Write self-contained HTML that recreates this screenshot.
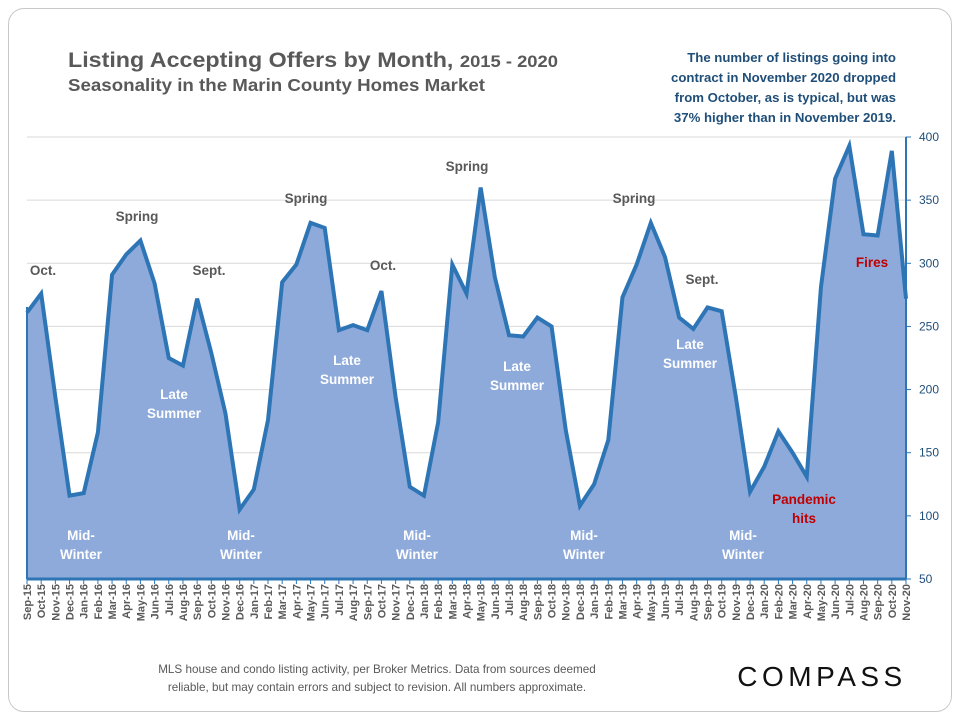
<!DOCTYPE html>
<html><head><meta charset="utf-8"><style>
body{margin:0;background:#fff;width:960px;height:720px;overflow:hidden;font-family:"Liberation Sans",sans-serif;}
.card{position:absolute;left:8px;top:8px;width:942px;height:702px;border:1px solid #c8c8c8;border-radius:16px;}
</style></head><body>
<div class="card"></div>
<svg id="chart" width="960" height="720" style="position:absolute;left:0;top:0">
<text x="68" y="67" font-size="21.5" font-weight="bold" fill="#595959" textLength="490" lengthAdjust="spacingAndGlyphs">Listing Accepting Offers by Month, <tspan font-size="17">2015 - 2020</tspan></text>
<text x="68" y="91" font-size="17.5" font-weight="bold" fill="#595959" textLength="417" lengthAdjust="spacingAndGlyphs">Seasonality in the Marin County Homes Market</text>
<g font-size="13.2" font-weight="bold" fill="#1f4e79" text-anchor="end">
<text x="896" y="62">The number of listings going into</text>
<text x="896" y="82">contract in November 2020 dropped</text>
<text x="896" y="102">from October, as is typical, but was</text>
<text x="896" y="122">37% higher than in November 2019.</text>
</g>
<g id="grid"></g><g id="area"></g><g id="axes"></g><g id="labels"></g>
<text x="377" y="673" font-size="11.7" fill="#595959" text-anchor="middle">MLS house and condo listing activity, per Broker Metrics. Data from sources deemed</text>
<text x="377" y="691" font-size="11.7" fill="#595959" text-anchor="middle">reliable, but may contain errors and subject to revision. All numbers approximate.</text>
<text x="822" y="686" font-size="28" fill="#111" text-anchor="middle" letter-spacing="4.5">COMPASS</text>
</svg>
<script>
const months=["Sep-15","Oct-15","Nov-15","Dec-15","Jan-16","Feb-16","Mar-16","Apr-16","May-16","Jun-16","Jul-16","Aug-16","Sep-16","Oct-16","Nov-16","Dec-16","Jan-17","Feb-17","Mar-17","Apr-17","May-17","Jun-17","Jul-17","Aug-17","Sep-17","Oct-17","Nov-17","Dec-17","Jan-18","Feb-18","Mar-18","Apr-18","May-18","Jun-18","Jul-18","Aug-18","Sep-18","Oct-18","Nov-18","Dec-18","Jan-19","Feb-19","Mar-19","Apr-19","May-19","Jun-19","Jul-19","Aug-19","Sep-19","Oct-19","Nov-19","Dec-19","Jan-20","Feb-20","Mar-20","Apr-20","May-20","Jun-20","Jul-20","Aug-20","Sep-20","Oct-20","Nov-20"];
const listings=[261,276,194,116,118,166,291,307,318,284,225,219,272,229,181,105,121,176,285,299,332,328,247,251,247,278,194,123,116,174,299,276,360,289,243,242,257,250,168,108,125,160,273,299,332,305,257,248,265,262,194,119,139,167,150,131,281,367,393,323,322,389,272];
const yTicks=[50,100,150,200,250,300,350,400];
const NS="http://www.w3.org/2000/svg";
const X0=27,X1=906,Y0=579,Y1=137,VMIN=50,VMAX=400;
const xs=i=>X0+(X1-X0)*i/(months.length-1);
const ys=v=>Y0-(v-VMIN)/(VMAX-VMIN)*(Y0-Y1);
function mk(tag,attrs,parent){const e=document.createElementNS(NS,tag);for(const k in attrs)e.setAttribute(k,attrs[k]);parent.appendChild(e);return e;}
const grid=document.getElementById('grid'),area=document.getElementById('area'),axes=document.getElementById('axes'),labels=document.getElementById('labels');
yTicks.forEach(t=>{
 const l=mk('line',{x1:X0,x2:X1,y1:ys(t),y2:ys(t),stroke:'#d9d9d9','stroke-width':1},grid);
 
 
 const tk=mk('line',{x1:X1,x2:X1+5,y1:ys(t),y2:ys(t),stroke:'#2e75b6'},axes);
 
 
 const tx=mk('text',{x:X1+13,y:ys(t)+4,'font-size':12,fill:'#1f4e79'},axes);
 tx.textContent=t;
 
 
});
let d='M'+xs(0)+','+Y0;
listings.forEach((v,i)=>d+=' L'+xs(i)+','+ys(v));
d+=' L'+xs(listings.length-1)+','+Y0+' Z';
const fill=mk('path',{d:d,fill:'#8eaadb'},area);


const ln=mk('polyline',{points:listings.map((v,i)=>xs(i)+','+ys(v)).join(' '),fill:'none',stroke:'#2e75b6','stroke-width':4,'stroke-linejoin':'miter'},area);


const ax=mk('line',{x1:X0,x2:X1,y1:Y0,y2:Y0,stroke:'#2e75b6','stroke-width':3},axes);


const ay=mk('line',{x1:X1,x2:X1,y1:Y1,y2:Y0,stroke:'#2e75b6','stroke-width':2},axes);


const al=mk('line',{x1:X0,x2:X0,y1:Y1+170,y2:Y0,stroke:'#2e75b6','stroke-width':2},axes);


months.forEach((m,i)=>{
 const t=mk('line',{x1:xs(i),x2:xs(i),y1:Y0,y2:Y0+5,stroke:'#2e75b6'},axes);
 
 
 const tx=mk('text',{x:0,y:0,'font-size':11,'font-weight':'bold',fill:'#595959','text-anchor':'end',transform:`translate(${xs(i)+4},${Y0+5}) rotate(-90)`},axes);
 tx.textContent=m;
 
 
});
const notes=[["Oct.",43,275,"#595959"],["Spring",137,221,"#595959"],["Sept.",209,275,"#595959"],["Spring",306,203,"#595959"],["Oct.",383,270,"#595959"],["Spring",467,171,"#595959"],["Spring",634,203,"#595959"],["Sept.",702,284,"#595959"],["Late",174,399,"#fff"],["Summer",174,418,"#fff"],["Late",347,365,"#fff"],["Summer",347,384,"#fff"],["Late",517,371,"#fff"],["Summer",517,390,"#fff"],["Late",690,349,"#fff"],["Summer",690,368,"#fff"],["Mid-",81,540,"#fff"],["Winter",81,559,"#fff"],["Mid-",241,540,"#fff"],["Winter",241,559,"#fff"],["Mid-",417,540,"#fff"],["Winter",417,559,"#fff"],["Mid-",584,540,"#fff"],["Winter",584,559,"#fff"],["Mid-",743,540,"#fff"],["Winter",743,559,"#fff"],["Pandemic",804,504,"#c00000"],["hits",804,523,"#c00000"],["Fires",872,267,"#c00000"]];
notes.forEach(n=>{
 const tx=mk('text',{x:n[1],y:n[2],'font-size':13.5,'font-weight':'bold',fill:n[3],'text-anchor':'middle'},labels);
 tx.textContent=n[0];
 
 
});
</script>
</body></html>
